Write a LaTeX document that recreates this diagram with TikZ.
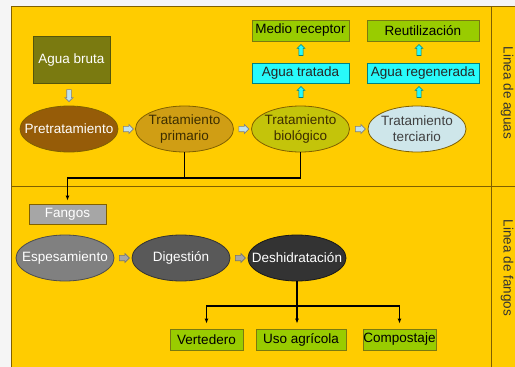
\documentclass[tikz,border=0pt]{standalone}
\usepackage{fontspec}
\setmainfont{Liberation Sans}
\usetikzlibrary{arrows.meta,shapes.geometric,shapes.arrows}
\definecolor{fondo}{RGB}{245,245,245}
\definecolor{panel}{RGB}{255,204,0}
\definecolor{borde}{RGB}{128,96,0}
\definecolor{olivo}{RGB}{122,122,16}
\definecolor{marron}{RGB}{150,92,8}
\definecolor{ocre}{RGB}{208,158,20}
\definecolor{oliva}{RGB}{196,196,10}
\definecolor{azulclaro}{RGB}{206,230,234}
\definecolor{cian}{RGB}{40,250,250}
\definecolor{verde}{RGB}{153,204,0}
\definecolor{celeste}{RGB}{190,226,240}
\definecolor{textoosc}{RGB}{60,45,0}

\tikzset{
  ovalo/.style={ellipse, draw=borde, line width=0.8pt, minimum width=98, minimum height=46, inner sep=0pt},
  caja/.style={draw=borde, line width=0.8pt, minimum height=21, inner sep=0pt},
  flecha/.style={single arrow, draw=gray, fill=celeste, line width=0.6pt, inner sep=2.4pt,
    minimum height=10, minimum width=9, single arrow head extend=1.8pt},
  linea/.style={line width=1.2pt, black}
}

\begin{document}
\begin{tikzpicture}[x=1pt, y=-1pt, >={Latex[length=5pt,width=4pt]}, font=\fontsize{13.5}{16}\selectfont]
    \useasboundingbox (0,0) rectangle (515,367);
    \fill[fondo] (0,0) rectangle (515,367);
    \fill[panel] (11,6) rectangle (515,367);
    \draw[borde, line width=0.8pt] (515,6) -- (11,6) -- (11,367);
    \draw[borde, line width=0.8pt] (491,6) -- (491,367);
    \draw[borde, line width=0.8pt] (11,186) -- (515,186);

    % linea de aguas
    \node[caja, draw=olivo!70!black, fill=olivo, text=white, minimum width=77, minimum height=47] (bruta) at (71.5,60) {Agua bruta};
    \node[flecha, shape border rotate=270, minimum width=8, inner sep=2pt, minimum height=12] (f0) at (69,94.5) {};
    \node[ovalo, fill=marron, label={[text=white]center:Pretratamiento}] (pre) at (69,129) {};
    \node[ovalo, fill=ocre, label={[text=textoosc, align=center]center:Tratamiento\\primario}] (prim) at (184.5,129) {};
    \node[ovalo, fill=oliva, label={[text=textoosc, align=center]center:Tratamiento\\biológico}] (bio) at (300.5,129) {};
    \node[ovalo, fill=azulclaro, label={[text=black!75, align=center]center:Tratamiento\\terciario}] (terc) at (417,129) {};
    \node[flecha] (f1) at (127,129) {};
    \node[flecha] (f2) at (242.5,129) {};
    \node[flecha] (f3) at (359,129) {};

    \node[caja, draw=teal, fill=cian, text=black!85, minimum width=97, minimum height=20] (tratada) at (300.5,73) {Agua tratada};
    \node[caja, draw=teal, fill=cian, text=black!85, minimum width=112, minimum height=20] (regen) at (423,73) {Agua regenerada};
    \node[caja, draw=olivo, fill=verde, minimum width=97] (medio) at (300.5,30.5) {Medio receptor};
    \node[caja, draw=olivo, fill=verde, minimum width=112] (reut) at (423,30.5) {Reutilización};
    \node[flecha, draw=teal, fill=cian, shape border rotate=90, minimum width=7, inner sep=1.8pt, minimum height=11] (f4) at (301,93) {};
    \node[flecha, draw=teal, fill=cian, shape border rotate=90, minimum width=7, inner sep=1.8pt, minimum height=11] (f5) at (301,51) {};
    \node[flecha, draw=teal, fill=cian, shape border rotate=90, minimum width=7, inner sep=1.8pt, minimum height=11] (f6) at (419,93) {};
    \node[flecha, draw=teal, fill=cian, shape border rotate=90, minimum width=7, inner sep=1.8pt, minimum height=11] (f7) at (419,51) {};

    % linea de fangos
    \coordinate (union) at (300.5,178);
    \node[caja, fill=black!35, text=white, minimum width=77, minimum height=20] (fangos) at (67.5,214) {Fangos};
    \draw[linea] (prim.south) -- (prim.south |- union);
    \draw[linea, ->, shorten >=3pt] (bio.south) -- (union) -| (fangos.north);

    \node[ovalo, draw=black!70, fill=black!50, label={[text=white]center:Espesamiento}] (espes) at (65,258) {};
    \node[ovalo, draw=black!80, fill=black!65, label={[text=white]center:Digestión}] (dig) at (181,258) {};
    \node[ovalo, draw=black!90, fill=black!80, label={[text=white]center:Deshidratación}] (desh) at (297,258) {};
    \node[flecha, fill=black!35, draw=black!55] (f8) at (123,258) {};
    \node[flecha, fill=black!35, draw=black!55] (f9) at (239,258) {};

    \node[caja, draw=olivo, fill=verde, minimum width=73] (vert) at (206.5,339.5) {Vertedero};
    \node[caja, draw=olivo, fill=verde, minimum width=90] (uso) at (301,339.5) {Uso agrícola};
    \node[caja, draw=olivo, fill=verde, minimum width=73] (comp) at (399.5,339.5) {Compostaje};
    \coordinate (rama) at (297,306);
    \draw[linea] (desh.south) -- (rama);
    \draw[linea, ->, shorten >=5pt] (rama) -| (vert.north);
    \draw[linea, ->, shorten >=5pt] (rama) -- (rama |- uso.north);
    \draw[linea, ->, shorten >=5pt] (rama) -| (comp.north);

    \node[rotate=-90, text=black!80] (laguas) at (507,93) {Linea de aguas};
    \node[rotate=-90, text=black!80] (lfangos) at (507,268) {Linea de fangos};
  \end{tikzpicture}
\end{document}
